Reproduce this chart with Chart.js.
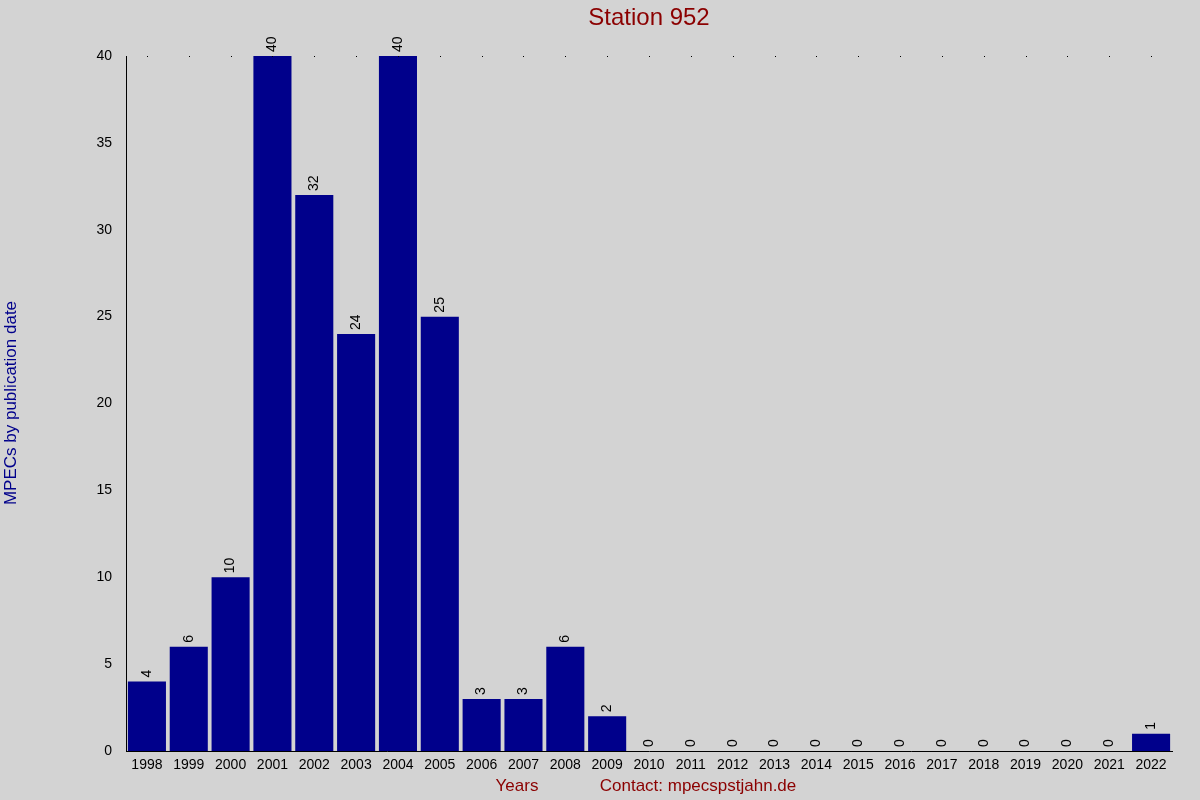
<!DOCTYPE html>
<html>
<head>
<meta charset="utf-8">
<script src="https://cdn.jsdelivr.net/npm/chart.js@4/dist/chart.umd.min.js"></script>
<style>
  html, body { margin: 0; padding: 0; background: #d3d3d3; }
  #wrap { width: 1200px; height: 800px; }
</style>
</head>
<body>
<div id="wrap"><canvas id="chartStation"></canvas></div>
<script>
const years = ['1998','1999','2000','2001','2002','2003','2004','2005','2006','2007','2008','2009','2010',
               '2011','2012','2013','2014','2015','2016','2017','2018','2019','2020','2021','2022'];
const mpecs = [4, 6, 10, 40, 32, 24, 40, 25, 3, 3, 6, 2, 0, 0, 0, 0, 0, 0, 0, 0, 0, 0, 0, 0, 1];
const yTicks = [0, 5, 10, 15, 20, 25, 30, 35, 40];

// Textos y decoraciones
const extras = {
    id: 'extras',
    afterDatasetsDraw(chart) {
        const { ctx, chartArea, scales } = chart;
        const meta = chart.getDatasetMeta(0);
        ctx.save();
        // valores rotados encima de las barras
        ctx.fillStyle = '#000';
        ctx.font = '14px Arial, "Liberation Sans"';
        ctx.textAlign = 'left';
        ctx.textBaseline = 'middle';
        meta.data.forEach((bar, i) => {
            ctx.save();
            ctx.translate(bar.x, bar.y - 4);
            ctx.rotate(-Math.PI / 2);
            ctx.fillText(String(mpecs[i]), 0, 0);
            ctx.restore();
        });
        // puntos en la línea superior
        years.forEach((y, i) => {
            ctx.fillRect(Math.round(scales.x.getPixelForValue(i)), chartArea.top, 1, 1);
        });
        // título
        ctx.fillStyle = '#8b0000';
        ctx.font = '24px Arial, "Liberation Sans"';
        ctx.textAlign = 'center';
        ctx.fillText('Station 952', 649, 18);
        // eje x
        ctx.font = '17px Arial, "Liberation Sans"';
        ctx.fillText('Years', 517, 786);
        ctx.fillText('Contact: mpecspstjahn.de', 698, 786);
        // eje y
        ctx.fillStyle = '#00008b';
        ctx.save();
        ctx.translate(11, 403);
        ctx.rotate(-Math.PI / 2);
        ctx.fillText('MPECs by publication date', 0, 0);
        ctx.restore();
        ctx.restore();
    }
};

new Chart(document.getElementById('chartStation').getContext('2d'), {
    type: 'bar',
    data: {
        labels: years,
        datasets: [{
            data: mpecs,
            backgroundColor: '#00008b',
            categoryPercentage: 1,
            barPercentage: 0.91
        }]
    },
    options: {
        responsive: true,
        maintainAspectRatio: false,
        animation: false,
        layout: { padding: { top: 56, right: 28, left: 0, bottom: 0 } },
        plugins: { legend: { display: false }, title: { display: false }, tooltip: { enabled: false } },
        scales: {
            x: {
                grid: { display: false, drawTicks: false },
                border: { color: '#000', width: 1 },
                ticks: { color: '#000', font: { size: 14, family: 'Arial, "Liberation Sans"' }, maxRotation: 0, autoSkip: false, padding: 6 },
                afterFit: s => { s.height = 49; }
            },
            y: {
                min: 0, max: 40,
                afterBuildTicks: s => { s.ticks = yTicks.map(v => ({ value: v })); },
                grid: { display: false, drawOnChartArea: false, drawTicks: true, tickLength: 8, tickColor: '#000' },
                border: { color: '#000', width: 1 },
                ticks: { color: '#000', font: { size: 14, family: 'Arial, "Liberation Sans"' }, padding: 6 },
                afterFit: s => { s.width = 126; }
            }
        }
    },
    plugins: [extras]
});
</script>
</body>
</html>
